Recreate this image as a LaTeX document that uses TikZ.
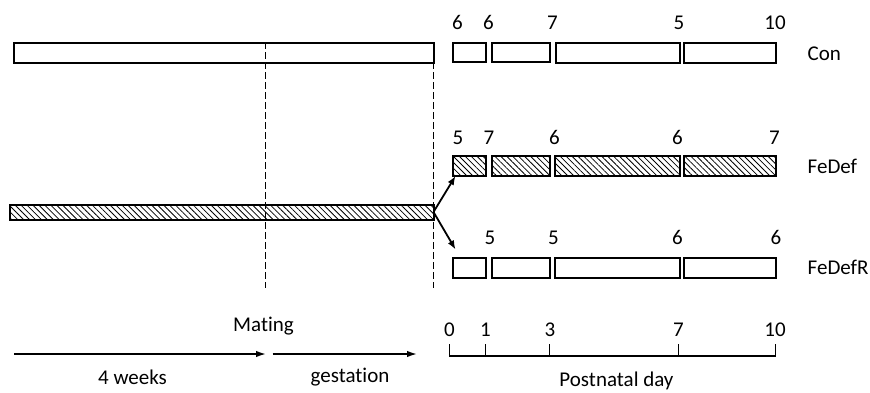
\documentclass[tikz,border=0pt]{standalone}
\usepackage{fontspec}
\setmainfont[Ligatures=NoCommon]{Carlito}
\usetikzlibrary{arrows.meta,patterns.meta}
\begin{document}
\begin{tikzpicture}[x=1pt,y=-1pt,
  font=\fontsize{21}{25}\selectfont,
  bar/.style={draw=black,line width=2pt,inner sep=0pt,outer sep=0pt,anchor=north west,fill=white},
  hbar/.style={bar,pattern={Lines[angle=-45,distance=4.2pt,line width=0.8pt]}},
  num/.style={inner sep=0pt,anchor=center},
  grp/.style={inner sep=0pt,anchor=west},
  vdash/.style={line width=1.6pt,dash pattern=on 7pt off 3pt},
  arr/.style={line width=1.6pt,-{Latex[length=10pt,width=6.5pt]}},
  sarr/.style={line width=1.8pt,-{Latex[length=9pt,width=7pt]}},
  tl/.style={line width=1.4pt}]
\useasboundingbox (0,0) rectangle (870,392);

% long pre-natal bars
\node[bar,minimum width=420pt,minimum height=19.5pt] (conlong) at (13.5,43) {};
\node[hbar,minimum width=424pt,minimum height=15.5pt] (fedlong) at (9.5,204.5) {};

% dashed lines
\coordinate (d1t) at (265.5,42); \coordinate (d1b) at (265.5,288);
\coordinate (d2t) at (433.5,42); \coordinate (d2b) at (433.5,288);
\draw[vdash] (d1t) -- (d1b);
\draw[vdash] (d2t) -- (d2b);

% Con row
\node[bar,minimum width=33pt,minimum height=19pt] (c1) at (453,43) {};
\node[bar,minimum width=58pt,minimum height=19pt] (c2) at (492,43) {};
\node[bar,minimum width=124pt,minimum height=19.5pt] (c3) at (555.5,43) {};
\node[bar,minimum width=92.5pt,minimum height=19.5pt] (c4) at (683.5,43) {};
\node[num] (cn0) at (457.5,22.5) {6};
\node[num] (cn1) at (488.5,22.5) {6};
\node[num] (cn3) at (552.5,22.5) {7};
\node[num] (cn7) at (679,22.5) {5};
\node[num] (cn10) at (775,22.5) {10};
\node[grp] (con) at (807.5,54) {Con};

% FeDef row
\node[hbar,minimum width=33pt,minimum height=20pt] (f1) at (453,156) {};
\node[hbar,minimum width=58pt,minimum height=20pt] (f2) at (492,156) {};
\node[hbar,minimum width=124.5pt,minimum height=20pt] (f3) at (555,156) {};
\node[hbar,minimum width=92pt,minimum height=20pt] (f4) at (684,156) {};
\node[num] (fn0) at (458,137.5) {5};
\node[num] (fn1) at (489,137.5) {7};
\node[num] (fn3) at (554.5,137.5) {6};
\node[num] (fn7) at (677.5,137.5) {6};
\node[num] (fn10) at (774.5,137.5) {7};
\node[grp] (fedef) at (807.5,166.5) {FeDef};

% FeDefR row
\node[bar,minimum width=33pt,minimum height=20pt] (r1) at (453,257.5) {};
\node[bar,minimum width=58pt,minimum height=20pt] (r2) at (492,257.5) {};
\node[bar,minimum width=124.5pt,minimum height=20pt] (r3) at (555,257.5) {};
\node[bar,minimum width=92pt,minimum height=20pt] (r4) at (684,257.5) {};
\node[num] (rn1) at (490,237.5) {5};
\node[num] (rn3) at (553.5,237.5) {5};
\node[num] (rn7) at (677.5,237.5) {6};
\node[num] (rn10) at (776,237.5) {6};
\node[grp] (fedefr) at (807.5,267.5) {FeDefR};

% split arrows
\coordinate (split) at (433.5,212);
\coordinate (upend) at (455.5,176);
\coordinate (dnend) at (455.5,249.5);
\draw[sarr] (split) -- (upend);
\draw[sarr] (split) -- (dnend);

% bottom left arrows
\coordinate (a1s) at (14,354); \coordinate (a1e) at (266,354);
\coordinate (a2s) at (272.5,354); \coordinate (a2e) at (417,354);
\draw[arr] (a1s) -- (a1e);
\draw[arr] (a2s) -- (a2e);
\node[num] (mating) at (263.5,326) {Mating};
\node[num] (weeks) at (132.5,377.5) {4 weeks};
\node[num] (gest) at (350,377.5) {gestation};

% postnatal timeline
\coordinate (t0) at (449.5,356); \coordinate (t0u) at (449.5,344);
\coordinate (t1) at (485.5,356); \coordinate (t1u) at (485.5,344);
\coordinate (t3) at (549.5,356); \coordinate (t3u) at (549.5,344);
\coordinate (t7) at (678.5,356); \coordinate (t7u) at (678.5,344);
\coordinate (t10) at (775.5,356); \coordinate (t10u) at (775.5,344);
\draw[tl] (t0u) -- (t0) -- (t10) -- (t10u);
\draw[tl] (t1) -- (t1u);
\draw[tl] (t3) -- (t3u);
\draw[tl] (t7) -- (t7u);
\node[num] (l0) at (449.5,330) {0};
\node[num] (l1) at (485.5,330) {1};
\node[num] (l3) at (550,330) {3};
\node[num] (l7) at (678.5,330) {7};
\node[num] (l10) at (775,330) {10};
\node[num] (pday) at (616.5,380.5) {Postnatal day};
\end{tikzpicture}
\end{document}
